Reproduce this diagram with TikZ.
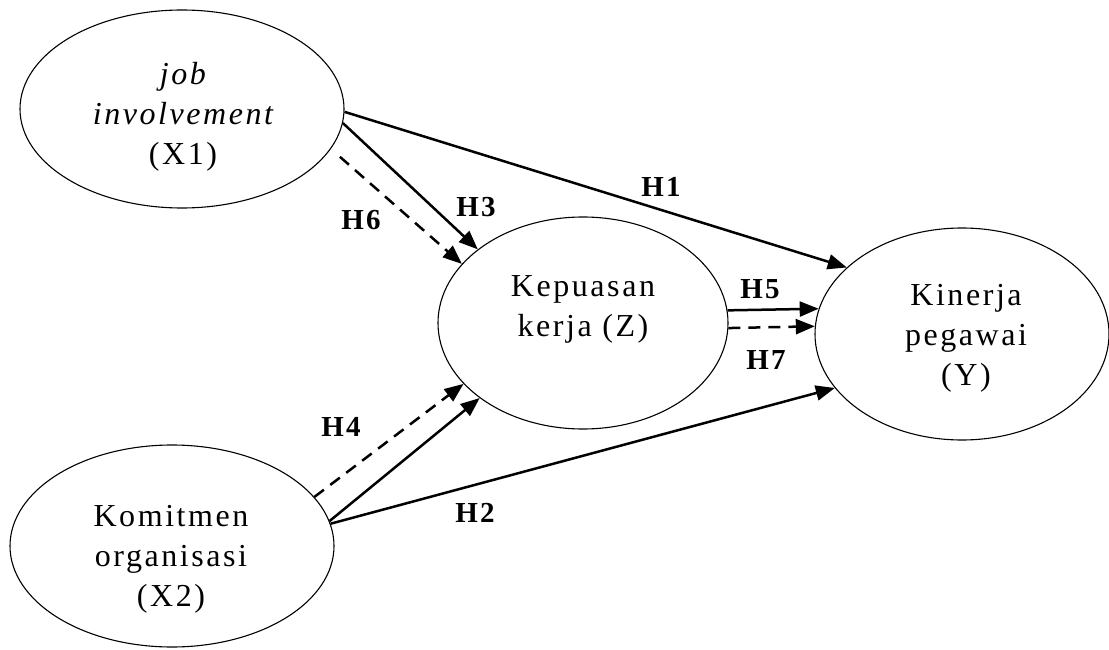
\documentclass[tikz,border=0pt]{standalone}
\usepackage{fontspec}
\setmainfont{Liberation Serif}
\newfontfamily\bodyfont[LetterSpace=8]{Liberation Serif}
\newfontfamily\hypfont[LetterSpace=8]{Liberation Serif}
\usetikzlibrary{shapes.geometric,arrows.meta}
\begin{document}
\begin{tikzpicture}[x=1pt,y=-1pt,
  var/.style={draw, ellipse, line width=1.1pt, inner sep=0pt},
  txt/.style={align=center, font=\bodyfont\fontsize{32}{40}\selectfont, inner sep=0pt},
  hyp/.style={font=\hypfont\bfseries\fontsize{29}{29}\selectfont, inner sep=0pt},
  arr/.style={line width=2.5pt, -{Triangle[length=19pt,width=15pt]}},
  darr/.style={arr, dash pattern=on 12pt off 8pt}]
\useasboundingbox (0,0) rectangle (1109,650);
% ellipses
\node[var, minimum width=324pt, minimum height=198pt] (X1) at (182,109) {};
\node[var, minimum width=290pt, minimum height=212pt] (Z) at (583,323) {};
\node[var, minimum width=294pt, minimum height=212pt] (Y) at (962,334) {};
\node[var, minimum width=324pt, minimum height=202pt] (X2) at (172,546) {};
% texts
\node[txt] (X1t) at (183,117) {{\itshape job}\\{\itshape involvement}\\(X1)};
\node[txt] (Zt) at (583,309) {Kepuasan\\kerja (Z)};
\node[txt] (Yt) at (966,338) {Kinerja\\pegawai\\(Y)};
\node[txt] (X2t) at (171,559) {Komitmen\\organisasi\\(X2)};
% connectors
\draw[arr] (X1.-1.4) -- (Y.150.9);
\draw[arr] (X1.-5.7) -- (Z.145.2);
\draw[darr, shorten <=12pt] (X1.-15.5) -- (Z.154.9);
\draw[darr] (X2.19.3) -- (Z.207.1);
\draw[arr] (X2.9.6) -- (Z.216.2);
\draw[arr] (X2.8.4) -- (Y.203.5);
\draw[arr] (Z.5.1) -- (Y.170.5);
\draw[darr] (Z.-2.7) -- (Y.177.6);
% labels
\node[hyp] (lH1) at (661,187) {H1};
\node[hyp] (lH3) at (476,207) {H3};
\node[hyp] (lH6) at (361,220) {H6};
\node[hyp] (lH4) at (341,427) {H4};
\node[hyp] (lH2) at (475,513) {H2};
\node[hyp] (lH5) at (760,289) {H5};
\node[hyp] (lH7) at (766,360) {H7};
\end{tikzpicture}
\end{document}
